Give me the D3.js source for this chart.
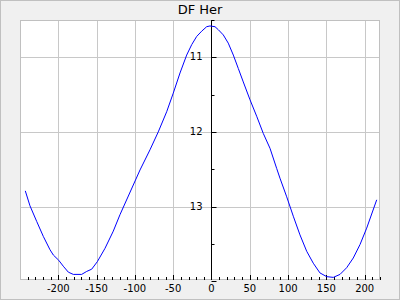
<!DOCTYPE html>
<html><head><meta charset="utf-8">
<script src="https://cdn.jsdelivr.net/npm/d3@7"></script>
<style>body{margin:0;background:#fff}svg{display:block}text{font-family:"DejaVu Sans",sans-serif}</style>
</head><body>
<script>
const title = "DF Her";
const phase = [-243.1,-237,-228.2,-219.6,-210.8,-206.5,-199.5,-193.5,-186.9,-180.4,-169.5,-162.9,-156.4,-149.1,-139.0,-128.2,-119.5,-93.3,-80.3,-69.5,-58.5,-49.9,-41.1,-32.4,-25.8,-19.3,-12.8,-6.3,-2,4.6,8.9,15.4,21.9,28.5,35.0,41.5,50.3,59.0,67.6,76.4,85.1,89.4,98.2,106.8,115.5,124.3,132.9,141.6,150.4,159.0,167.8,176.5,185.1,193.9,202.6,215.7];
const mag = [12.79,12.99,13.20,13.40,13.58,13.65,13.72,13.80,13.88,13.91,13.91,13.87,13.84,13.74,13.56,13.33,13.11,12.51,12.24,12.00,11.73,11.48,11.21,10.97,10.83,10.72,10.65,10.59,10.58,10.59,10.63,10.70,10.81,10.97,11.15,11.33,11.57,11.79,12.02,12.22,12.49,12.62,12.87,13.13,13.38,13.60,13.76,13.89,13.94,13.95,13.91,13.82,13.69,13.51,13.29,12.91];
const xTicks = [-200,-150,-100,-50,0,50,100,150,200];
const yTicks = [11,12,13];

const W=400,H=300, L=20,R=380,T=20,B=280;
const svg=d3.select("body").append("svg").attr("width",W).attr("height",H);
svg.append("rect").attr("x",0.5).attr("y",0.5).attr("width",W-1).attr("height",H-1).attr("fill","#f0f0f0").attr("stroke","#c0c0c0");
svg.append("rect").attr("x",L).attr("y",T).attr("width",R-L).attr("height",B-T).attr("fill","#fff");

const x=d3.scaleLinear().domain([-250,220]).range([L,R]);
const y=d3.scaleLinear().domain([10.5,13.985]).range([T,B]);

const grid=svg.append("g").attr("stroke","#c8c8c8").attr("stroke-width",1);
xTicks.forEach(t=>{const px=Math.round(x(t))+0.5;grid.append("line").attr("x1",px).attr("x2",px).attr("y1",T).attr("y2",B);});
yTicks.forEach(t=>{const py=Math.round(y(t))+0.5;grid.append("line").attr("x1",L).attr("x2",R).attr("y1",py).attr("y2",py);});
svg.append("rect").attr("x",L+0.5).attr("y",T+0.5).attr("width",R-L-1).attr("height",B-T-1).attr("fill","none").attr("stroke","#c0c0c0");

// bottom x ticks (minor every 10, pointing up)
const tk=svg.append("g").attr("stroke","#000");
d3.range(-240,221,10).forEach(t=>{
  const px=Math.round(x(t))+0.5;
  const len = (t%50===0)?5:3;
  tk.append("line").attr("x1",px).attr("x2",px).attr("y1",B).attr("y2",B-len);
});
// x labels
svg.append("g").selectAll("text").data(xTicks).join("text")
  .attr("x",d=>x(d)).attr("y",292).attr("text-anchor","middle").attr("font-size",10).attr("fill","#000")
  .text(d=>d);

// y axis at x=0
const ax=Math.round(x(0))+0.5;
svg.append("line").attr("x1",ax).attr("x2",ax).attr("y1",T).attr("y2",B).attr("stroke","#000");
d3.range(10.5,14.01,0.5).forEach(t=>{
  const py=Math.round(y(t))+0.5;
  const major = Number.isInteger(t);
  svg.append("line").attr("x1",ax).attr("x2",ax+(major?5:3)).attr("y1",py).attr("y2",py).attr("stroke","#000");
});
svg.append("g").selectAll("text").data(yTicks).join("text")
  .attr("x",ax-9).attr("y",d=>y(d)).attr("dy","0.3em").attr("text-anchor","end").attr("font-size",10).attr("fill","#000")
  .text(d=>d);

// curve
const pts=phase.map((p,i)=>[p,mag[i]]);
svg.append("path").datum(pts).attr("fill","none").attr("stroke","#0000ff").attr("stroke-width",1)
  .attr("d",d3.line().x(d=>x(d[0])).y(d=>y(d[1])));

svg.append("text").attr("x",W/2).attr("y",14).attr("text-anchor","middle").attr("font-size",13).attr("fill","#000").text(title);
</script>
</body></html>
